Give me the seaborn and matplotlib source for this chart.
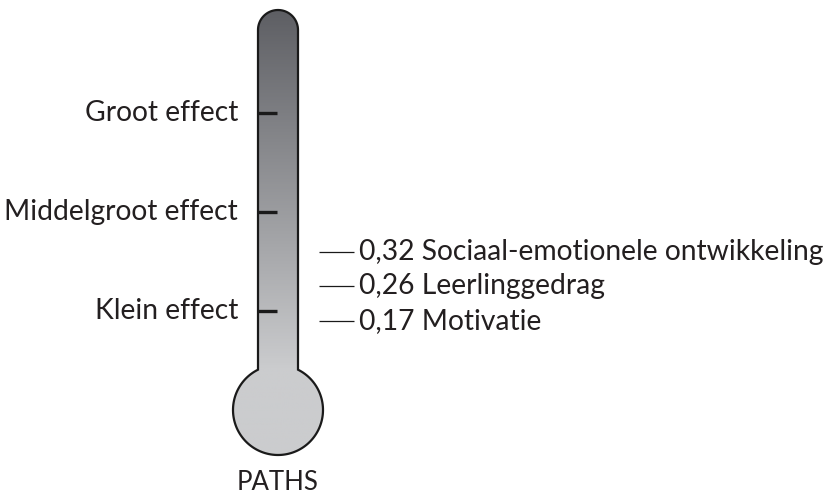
import numpy as np
import pandas as pd
import seaborn as sns
import matplotlib.pyplot as plt
from matplotlib.path import Path
from matplotlib.patches import PathPatch
from matplotlib.colors import LinearSegmentedColormap

# effect-size benchmarks on the thermometer
effect_labels = ["Klein effect", "Middelgroot effect", "Groot effect"]
effect_values = [0.2, 0.5, 0.8]

# PATHS outcomes
outcomes = ["Sociaal-emotionele ontwikkeling", "Leerlinggedrag", "Motivatie"]
outcome_values = [0.32, 0.26, 0.17]
program = "PATHS"

sns.set_theme(style="white")
plt.rcParams["font.family"] = ["Lato", "DejaVu Sans"]
FS = 20.3

W, H = 837, 497
fig = plt.figure(figsize=(W / 100, H / 100), dpi=100)
ax = fig.add_axes([0, 0, 1, 1])

# y axis in effect units, x axis in pixels
PX_PER_UNIT = 330
REF_PX, REF_V = 311, 0.2


def v(py):
    return REF_V + (REF_PX - py) / PX_PER_UNIT


ax.set_xlim(0, W)
ax.set_ylim(v(H), v(0))
ax.axis("off")

# thermometer outline (pixel geometry)
cx, half, top = 278, 20, 30
bcx, bcy, br = 278, 410, 45
join = bcy - np.sqrt(br**2 - half**2)
cap = np.linspace(np.pi, 0, 40)
xs = [cx - half] + list(cx + half * np.cos(cap)) + [cx + half]
ys = [join] + list(top - half * np.sin(cap)) + [join]
a0 = np.arctan2(-(join - bcy), half)
bulb = np.linspace(a0, np.pi - a0 - 2 * np.pi, 120)
xs += list(bcx + br * np.cos(bulb))
ys += list(bcy - br * np.sin(bulb))
verts = np.column_stack([xs, [v(y) for y in ys]])
outline = Path(np.vstack([verts, verts[:1]]), closed=True)

cmap = LinearSegmentedColormap.from_list("thermo", ["#5e5f64", "#cbccce"])
grad = np.clip((np.linspace(0, H, 500) - 10) / (join - 10), 0, 1)[:, None]
img = ax.imshow(grad, cmap=cmap, aspect="auto", extent=(200, 360, v(H), v(0)),
                origin="upper", zorder=1)
patch = PathPatch(outline, facecolor="none", edgecolor="#1a1a1a", lw=1.6, zorder=3)
ax.add_patch(patch)
img.set_clip_path(patch)

# benchmark ticks and labels
ax.hlines(effect_values, cx - half, cx - 1, color="#1a1a1a", lw=2.4, zorder=4)
for lab, val in zip(effect_labels, effect_values):
    ax.text(cx - half - 20, val, lab, ha="right", va="center", fontsize=FS,
            color="#231f20")

# outcome markers, spread labels so they don't collide
df = pd.DataFrame({"outcome": outcomes, "d": outcome_values}).sort_values("d")
gap = 0.105
pos = []
for d in df["d"]:
    pos.append(d if not pos else max(d, pos[-1] + gap))
df["ypos"] = pos
ax.hlines(df["ypos"], 319, 354, color="#1a1a1a", lw=0.9)
for _, r in df.iterrows():
    ax.text(359, r["ypos"], f"{r['d']:.2f}".replace(".", ",") + " " + r["outcome"],
            ha="left", va="center", fontsize=FS, color="#231f20")

ax.text(cx, v(483), program, ha="center", va="center", fontsize=18.5,
        color="#231f20")

fig.savefig("out.png", dpi=100)
